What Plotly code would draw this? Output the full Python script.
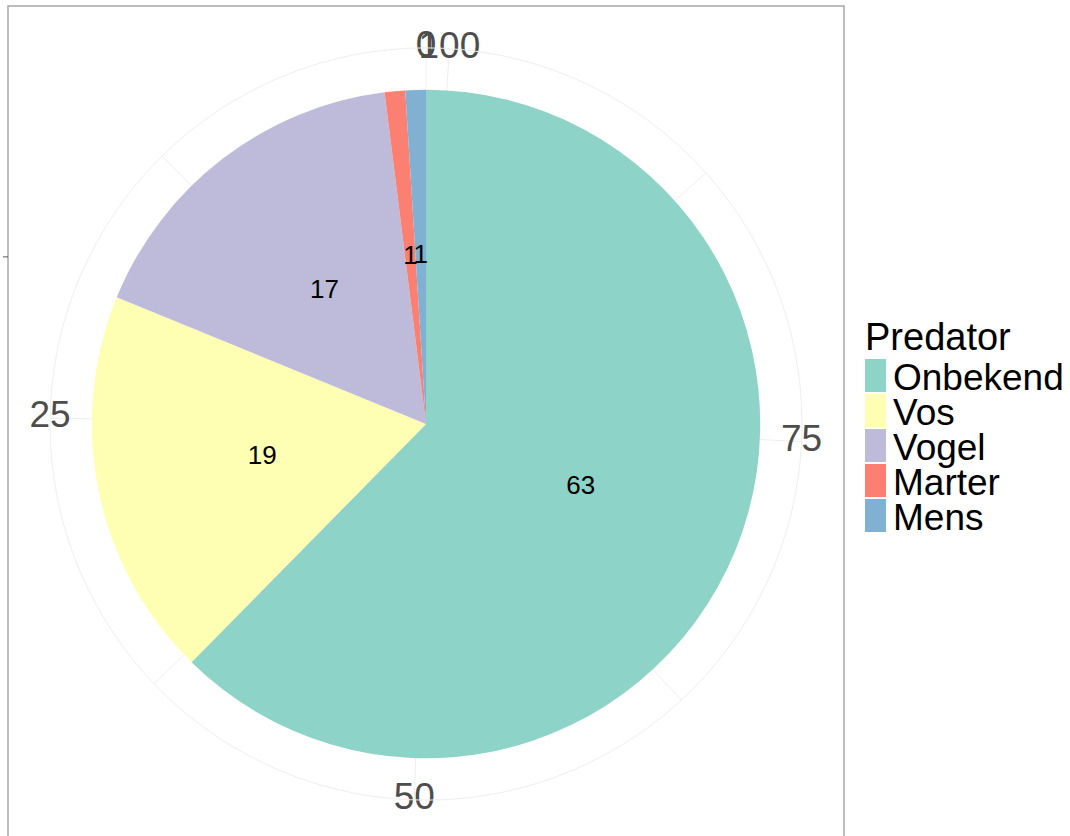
import plotly.graph_objects as go

# ---- data ----
categories = ["Onbekend", "Vos", "Vogel", "Marter", "Mens"]
counts = [63, 19, 17, 1, 1]
colors = ["#8DD3C7", "#FFFFB3", "#BEBADA", "#FB8072", "#80B1D3"]
tick_values = [0, 25, 50, 75, 100]
minor_values = [12.5, 37.5, 62.5, 87.5]
legend_title = "Predator"

W, H = 1070, 836
FONT = "Liberation Sans, Arial, sans-serif"

total = sum(counts)
deg = 360.0 / total

# stacking: last category starts at 0, counter-clockwise
order = list(range(len(categories)))[::-1]
starts = {}
cum = 0
for i in order:
    starts[i] = cum
    cum += counts[i]

fig = go.Figure()
for i, cat in enumerate(categories):
    fig.add_trace(go.Barpolar(
        r=[1], base=[0],
        theta=[(starts[i] + counts[i] / 2) * deg],
        width=[counts[i] * deg],
        marker=dict(color=colors[i], line=dict(width=0)),
        name=cat, showlegend=False, hoverinfo="skip",
    ))

# value labels in the middle of each slice
fig.add_trace(go.Scatterpolar(
    r=[0.5] * len(categories),
    theta=[(starts[i] + counts[i] / 2) * deg for i in range(len(categories))],
    text=[str(c) for c in counts],
    mode="text", textfont=dict(size=26, color="#000000", family=FONT),
    showlegend=False, hoverinfo="skip", cliponaxis=False,
))

# theta axis labels centred on the outer circle
R_OUT = 1.125
fig.add_trace(go.Scatterpolar(
    r=[R_OUT] * len(tick_values),
    theta=[v * deg for v in tick_values],
    text=[str(v) for v in tick_values],
    mode="text", textfont=dict(size=37, color="#4D4D4D", family=FONT),
    showlegend=False, hoverinfo="skip", cliponaxis=False,
))

def px(x):
    return x / W

def py(y):
    return 1 - y / H

# polar geometry (pixels)
cx, cy, rad = 426, 424, 376
grid_vals = sorted(tick_values + minor_values)
fig.update_layout(
    width=W, height=H,
    margin=dict(l=0, r=0, t=0, b=0),
    paper_bgcolor="white",
    font=dict(family=FONT),
    polar=dict(
        domain=dict(x=[px(cx - rad), px(cx + rad)],
                    y=[py(cy + rad), py(cy - rad)]),
        bgcolor="white",
        radialaxis=dict(visible=False, range=[0, R_OUT]),
        angularaxis=dict(
            rotation=90, direction="counterclockwise",
            tickvals=[v * deg for v in grid_vals],
            showticklabels=False, ticks="",
            showgrid=True, gridcolor="#EEEEEE", gridwidth=1,
            showline=True, linecolor="#EEEEEE", linewidth=1,
        ),
    ),
)

# panel border
fig.add_shape(type="rect", xref="paper", yref="paper",
              x0=px(8), x1=px(844), y0=py(850), y1=py(6),
              line=dict(color="#A8A8A8", width=1.5), fillcolor="rgba(0,0,0,0)")
# r-axis tick on the left (at the middle of the pie radius)
r_pie = rad / R_OUT
fig.add_shape(type="line", xref="paper", yref="paper",
              x0=px(3), x1=px(8), y0=py(cy - r_pie * 0.5), y1=py(cy - r_pie * 0.5),
              line=dict(color="#555555", width=1))

# legend (manual, ggplot-like spacing)
key_x0, key_x1 = 865, 886
key_top, key_h = 358, 35
fig.add_annotation(x=px(863), y=py(337), xref="paper", yref="paper",
                   text=legend_title, showarrow=False, xanchor="left", yanchor="middle",
                   font=dict(size=38, color="#000000", family=FONT))
for k, cat in enumerate(categories):
    y0 = key_top + k * key_h
    fig.add_shape(type="rect", xref="paper", yref="paper",
                  x0=px(key_x0), x1=px(key_x1), y0=py(y0 + key_h - 1), y1=py(y0 + 1),
                  fillcolor=colors[k], line=dict(width=0))
    fig.add_annotation(x=px(891), y=py(y0 + key_h / 2 + 2), xref="paper", yref="paper",
                       text=cat, showarrow=False, xanchor="left", yanchor="middle",
                       font=dict(size=37, color="#000000", family=FONT))

fig.write_html(
    "out.html",
    config={"displayModeBar": False},
    post_script="document.body.style.margin='0';document.body.style.overflow='hidden';",
)
